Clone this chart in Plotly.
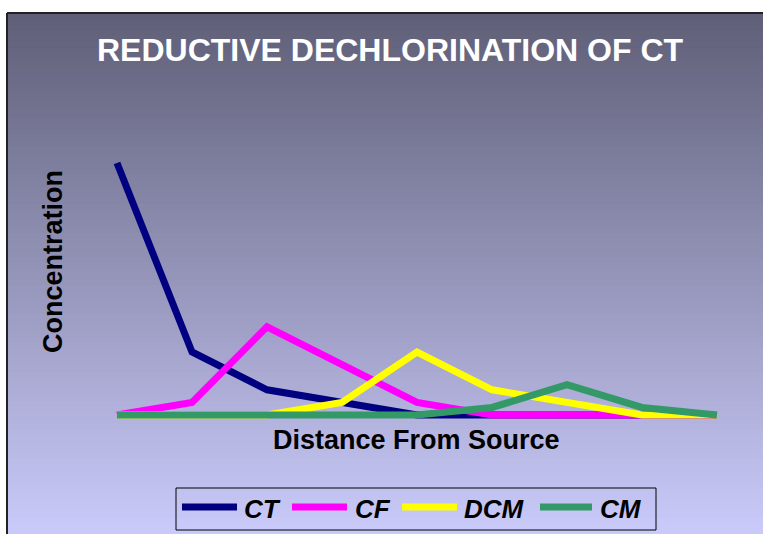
import plotly.graph_objects as go

# distance stations (no tick labels shown in the chart)
distance = [1, 2, 3, 4, 5, 6, 7, 8, 9]

ct = [100, 25, 10, 5, 0, 0, 0, 0, 0]
cf = [0, 5, 35, 20, 5, 0, 0, 0, 0]
dcm = [0, 0, 0, 5, 25, 10, 5, 0, 0]
cm = [0, 0, 0, 0, 0, 3, 12, 3, 0]

names = ["CT", "CF", "DCM", "CM"]
colors = ["#000080", "#ff00ff", "#ffff00", "#339966"]
series = [ct, cf, dcm, cm]

W, H = 763, 534


def px(x):
    return x / W


def py(y):
    return 1 - y / H


fig = go.Figure()
for name, vals, color in zip(names, series, colors):
    fig.add_trace(go.Scatter(
        x=distance, y=vals, name=name, mode="lines",
        line=dict(color=color, width=7), showlegend=False,
    ))

# vertical gradient background, dark slate at the top to lavender at the bottom
top = (95, 95, 120)
bot = (202, 202, 250)
n = 90
shapes = []
for i in range(n):
    t = i / (n - 1)
    c = tuple(round(top[k] + (bot[k] - top[k]) * t) for k in range(3))
    ya = 13 + (H - 13) * i / n
    yb = 13 + (H - 13) * (i + 1) / n + 1
    shapes.append(dict(
        type="rect", xref="paper", yref="paper",
        x0=px(7), x1=1.01, y0=py(yb), y1=py(ya),
        fillcolor="rgb(%d,%d,%d)" % c, line_width=0, layer="below",
    ))
# frame lines (top and left)
shapes.append(dict(type="line", xref="paper", yref="paper",
                   x0=px(7), x1=1.01, y0=py(13), y1=py(13),
                   line=dict(color="#222222", width=2), layer="below"))
shapes.append(dict(type="line", xref="paper", yref="paper",
                   x0=px(7), x1=px(7), y0=-0.1, y1=py(13),
                   line=dict(color="#222222", width=2), layer="below"))

# legend box and samples
shapes.append(dict(type="rect", xref="paper", yref="paper",
                   x0=px(176), x1=px(656), y0=py(530), y1=py(488),
                   line=dict(color="black", width=1), fillcolor="rgba(0,0,0,0)"))
leg_line_x = [(182, 237), (292, 347), (402, 457), (540, 592)]
leg_text_x = [242, 353, 462, 598]
annotations = []
for (a, b), tx, name, color in zip(leg_line_x, leg_text_x, names, colors):
    shapes.append(dict(type="line", xref="paper", yref="paper",
                       x0=px(a), x1=px(b), y0=py(507), y1=py(507),
                       line=dict(color=color, width=7)))
    annotations.append(dict(
        text="<b><i>%s</i></b>" % name, xref="paper", yref="paper",
        x=px(tx), y=py(509), xanchor="left", yanchor="middle", showarrow=False,
        font=dict(family="Liberation Sans, Arial", size=26, color="black")))

annotations += [
    dict(text="<b>REDUCTIVE DECHLORINATION OF CT</b>", xref="paper", yref="paper",
         x=px(390), y=py(50), xanchor="center", yanchor="middle", showarrow=False,
         font=dict(family="Liberation Sans Narrow, Arial Narrow, Liberation Sans",
                   size=32, color="white")),
    dict(text="<b>Concentration</b>", xref="paper", yref="paper",
         x=px(53), y=py(262), xanchor="center", yanchor="middle",
         showarrow=False, textangle=-90,
         font=dict(family="Liberation Sans, Arial", size=27, color="black")),
    dict(text="<b>Distance From Source</b>", xref="paper", yref="paper",
         x=px(416), y=py(440), xanchor="center", yanchor="middle", showarrow=False,
         font=dict(family="Liberation Sans, Arial", size=27, color="black")),
]

# pixel mapping: x=1 at 117px, step 75px; y=0 at 415px, 2.52 px per unit
x_lo = 1 - 117 / 75
x_hi = 1 + (W - 117) / 75
y_hi = 415 / 2.52
y_lo = -(H - 415) / 2.52

fig.update_layout(
    width=W, height=H,
    margin=dict(l=0, r=0, t=0, b=0),
    paper_bgcolor="white",
    plot_bgcolor="rgba(0,0,0,0)",
    shapes=shapes,
    annotations=annotations,
    xaxis=dict(range=[x_lo, x_hi], visible=False, fixedrange=True),
    yaxis=dict(range=[y_lo, y_hi], visible=False, fixedrange=True),
    showlegend=False,
)

# drop the default page margin so the figure fills the window exactly
fig.write_html("out.html",
               config={"displayModeBar": False},
               post_script="document.body.style.margin='0';document.body.style.overflow='hidden';")
